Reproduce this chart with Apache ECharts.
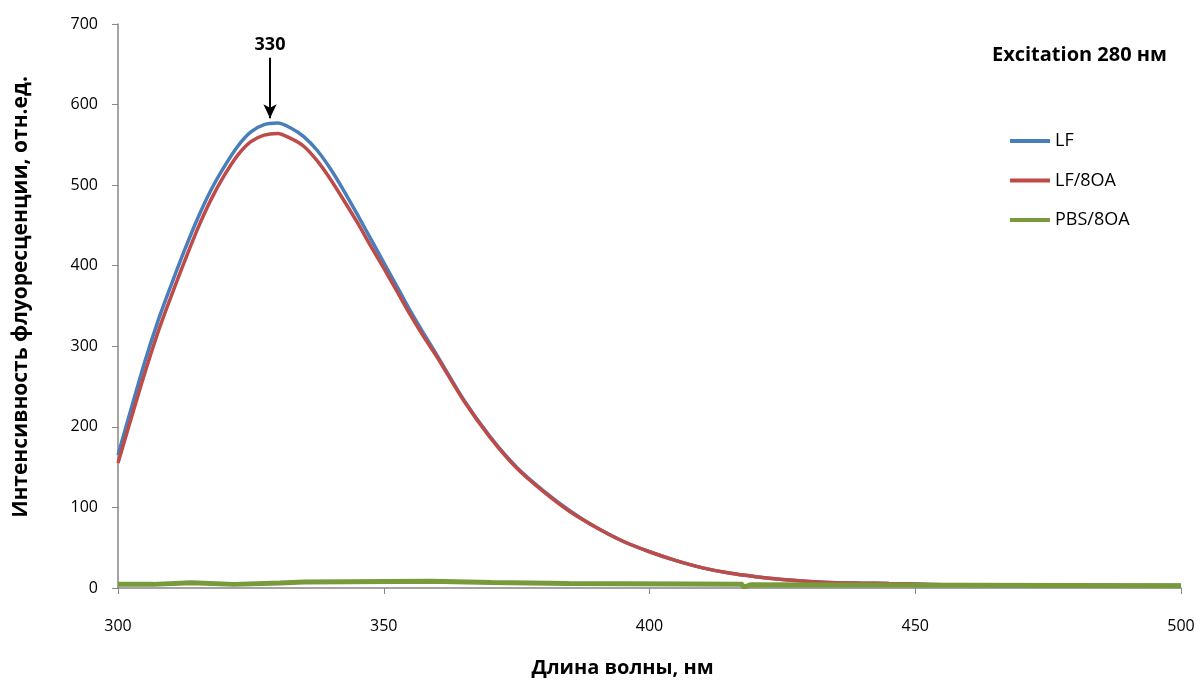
<!DOCTYPE html>
<html>
<head>
<meta charset="utf-8">
<script src="https://cdn.jsdelivr.net/npm/echarts@6/dist/echarts.min.js"></script>
<style>html,body{margin:0;padding:0;background:#fff}#chart{width:1200px;height:683px}</style>
</head>
<body>
<div id="chart"></div>
<script>
// Wavelengths (nm)
var wavelengths = [300,302.5,305,307.5,310,312.5,315,317.5,320,322.5,325,327.5,330,332.5,335,337.5,340,342.5,345,347.5,350,352.5,355,357.5,360,365,370,375,380,385,390,395,400,405,410,415,420,425,430,435,440,445,450,455,460,470,480,490,500];
// LF intensity
var lfValues = [165,223,280,331,376,419,459,494,523,548,566,575,577,571,560,543,520,493,464,434,404,374,344,316,289,234,188,150,121,96,75,58,45,34,25,18.5,14,10.5,8,6.5,6,5.5,5,4,3.5,3,3,3,3];
// LF/8OA intensity
var lf8oaValues = [155,211,266,317,362,405,446,482,512,537,554,562,564,558,548,530,507,481,454,425,397,368,339,312,287,233,187,149,120,95,75,58,45,34,25,18.5,14,10.5,8,6.5,6,5.5,5,4,3.5,3,3,3,3];
// PBS/8OA (stepped baseline) breakpoints
var pbsWavelengths = [300,306.6,313.8,321.8,330.5,335,358.8,370.3,384.8,417.5,418.2,419,500];
var pbsValues = [4.5,6.5,4.5,6.3,7.4,8.5,6.8,5.5,4.6,2.0,4.0,2.8,2.8];
// Axis ticks
var xMin = 300, xMax = 500, xStep = 50;
var yMin = 0, yMax = 700, yStep = 100;
var seriesNames = ['LF','LF/8OA','PBS/8OA'];
var peakLabel = '330';
var peakX = 328.6;

function pairs(xs, ys){ return xs.map(function(x,i){return [x, ys[i]];}); }

var FONT = '"Open Sans", "Noto Sans", sans-serif';
var axisColor = '#868686';

var chart = echarts.init(document.getElementById('chart'), null, {renderer:'canvas'});
chart.setOption({
  animation:false,
  backgroundColor:'#fff',
  title:{
    text:'Excitation 280 нм',
    right:28, top:40,
    textStyle:{fontFamily:FONT, fontSize:20, fontWeight:'bold', color:'#000'}
  },
  legend:{
    orient:'vertical',
    left:1005, top:127,
    itemWidth:40, itemHeight:4, itemGap:21.5,
    icon:'rect',
    data:seriesNames,
    textStyle:{fontFamily:FONT, fontSize:18, color:'#000'}
  },
  grid:{left:118, right:19, top:24, bottom:92},
  xAxis:{
    type:'value', min:xMin, max:xMax, interval:xStep,
    name:'Длина волны, нм', nameLocation:'middle', nameGap:70,
    nameTextStyle:{fontFamily:FONT, fontSize:20, fontWeight:'bold', color:'#000', padding:[0,54,0,0]},
    axisLine:{lineStyle:{color:axisColor, width:1.5}},
    axisTick:{show:true, length:6, lineStyle:{color:axisColor}},
    axisLabel:{fontFamily:FONT, fontSize:16, color:'#000', margin:30},
    splitLine:{show:false}
  },
  yAxis:{
    type:'value', min:yMin, max:yMax, interval:yStep,
    name:'Интенсивность флуоресценции, отн.ед.', nameLocation:'middle', nameGap:86,
    nameTextStyle:{fontFamily:FONT, fontSize:21, fontWeight:'bold', color:'#000', padding:[0,0,0,18]},
    axisLine:{show:true, lineStyle:{color:axisColor, width:1.5}},
    axisTick:{show:true, length:6, lineStyle:{color:axisColor}},
    axisLabel:{fontFamily:FONT, fontSize:16, color:'#000', margin:20},
    splitLine:{show:false}
  },
  series:[
    {
      name:seriesNames[0], type:'line', smooth:0.3, symbol:'none',
      data:pairs(wavelengths, lfValues),
      lineStyle:{color:'#4A7EBB', width:3.5}, itemStyle:{color:'#4A7EBB'},
      markLine:{
        silent:true, symbol:['none','arrow'], symbolSize:[10,14],
        lineStyle:{color:'#000', width:2, type:'solid'},
        label:{show:true, position:'start', formatter:peakLabel, fontFamily:FONT, fontSize:18, fontWeight:'bold', color:'#000', distance:4},
        data:[[{coord:[peakX, 658]},{coord:[peakX, 583]}]]
      }
    },
    {
      name:seriesNames[1], type:'line', smooth:0.3, symbol:'none',
      data:pairs(wavelengths, lf8oaValues),
      lineStyle:{color:'#BE4B48', width:3.5}, itemStyle:{color:'#BE4B48'}
    },
    {
      name:seriesNames[2], type:'line', step:'end', symbol:'none',
      data:pairs(pbsWavelengths, pbsValues),
      lineStyle:{color:'#789A3B', width:5}, itemStyle:{color:'#789A3B'}
    }
  ]
});
</script>
</body>
</html>
